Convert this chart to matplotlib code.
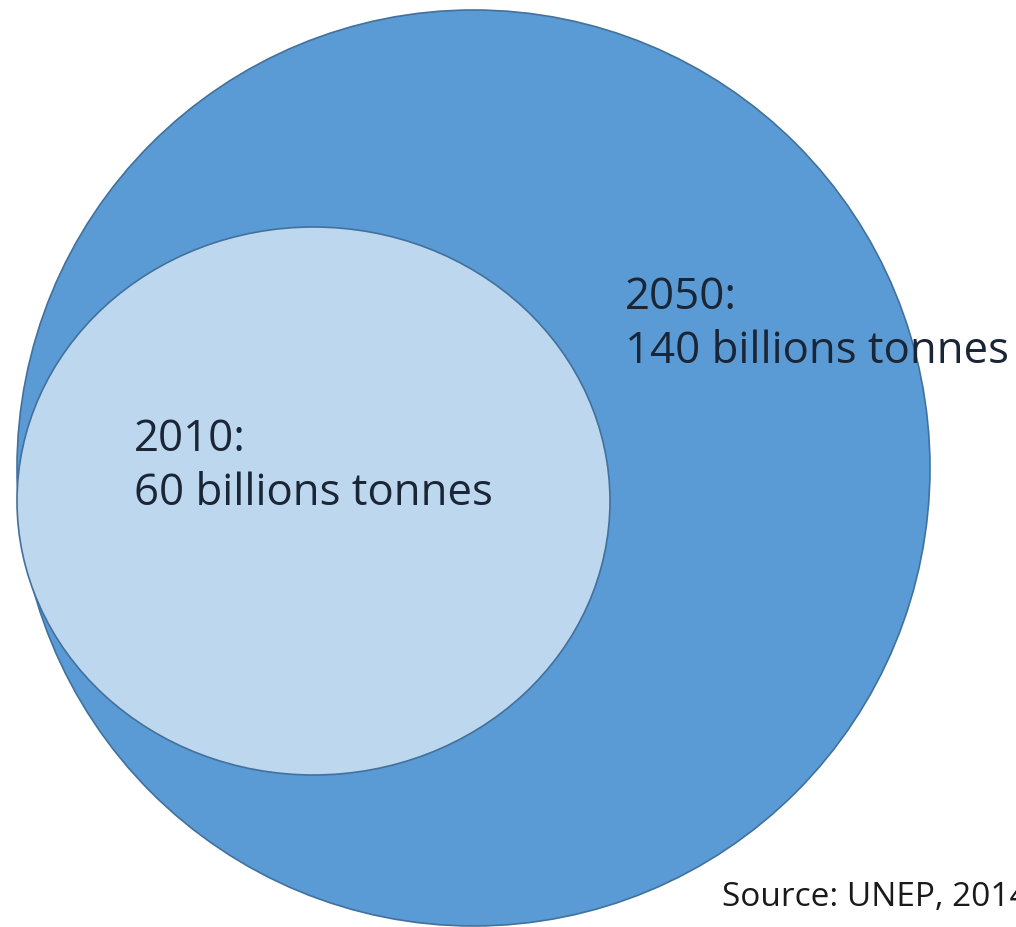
import matplotlib
matplotlib.use("Agg")
import matplotlib.pyplot as plt
from matplotlib.patches import Ellipse

# data
years = ["2050", "2010"]
amounts = ["140 billions tonnes", "60 billions tonnes"]
source_text = "Source: UNEP, 2014"

W, H = 1016, 928
fig = plt.figure(figsize=(W / 100, H / 100), dpi=100)
ax = fig.add_axes([0, 0, 1, 1])
ax.set_xlim(0, W)
ax.set_ylim(H, 0)
ax.axis("off")

big = Ellipse((473.5, 469), 913, 916, facecolor="#5b9bd5", edgecolor="#41719c", lw=1.2, zorder=1)
small = Ellipse((313.5, 502), 593, 548, facecolor="#bdd7ee", edgecolor="#41719c", lw=1.2, zorder=2)
ax.add_patch(big)
ax.add_patch(small)

font = "Open Sans"
tc = "#1a2535"
fs = 31.5
ax.text(625, 309, years[0] + ":", fontsize=fs, family=font, color=tc, va="baseline", ha="left", zorder=3)
ax.text(625, 363, amounts[0], fontsize=fs, family=font, color=tc, va="baseline", ha="left", zorder=3)
ax.text(134, 451, years[1] + ":", fontsize=fs, family=font, color=tc, va="baseline", ha="left", zorder=3)
ax.text(134, 505, amounts[1], fontsize=fs, family=font, color=tc, va="baseline", ha="left", zorder=3)

ax.text(722, 906, source_text, fontsize=24, family=font, color="#1a1a1a", va="baseline", ha="left", zorder=3)

fig.savefig("out.png", dpi=100, facecolor="white")
